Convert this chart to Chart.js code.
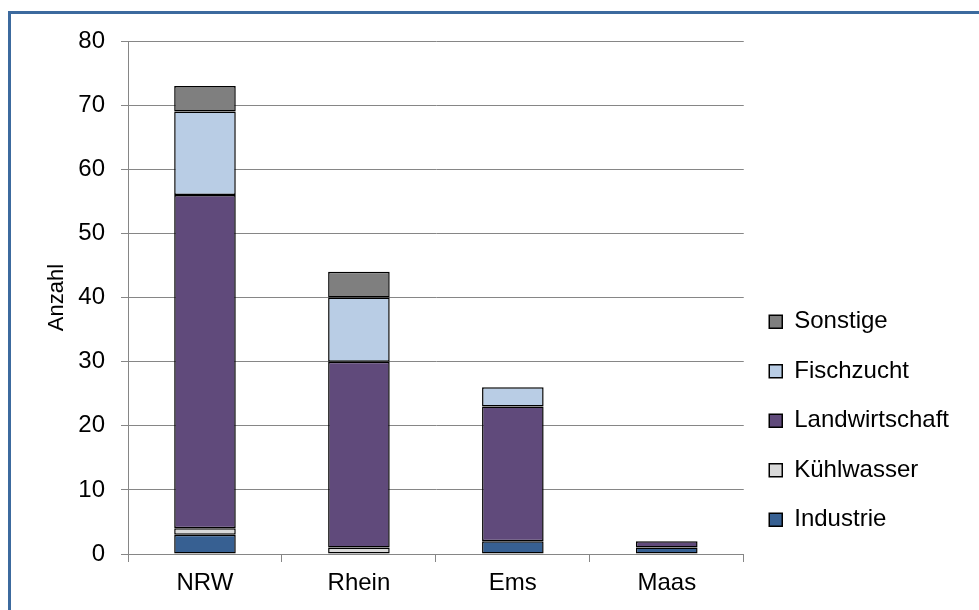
<!DOCTYPE html>
<html>
<head>
<meta charset="utf-8">
<script src="https://cdn.jsdelivr.net/npm/chart.js@4/dist/chart.umd.min.js"></script>
<style>
html, body { margin: 0; padding: 0; background: #fff; overflow: hidden; }
#rahmen { position: absolute; left: 8px; top: 11px; width: 1000px; height: 700px; border: 3px solid #3c6a9e; box-sizing: border-box; }
#chart { position: absolute; left: 0; top: 0; }
</style>
</head>
<body>
<div id="rahmen"></div>
<canvas id="chart" width="979" height="610"></canvas>
<script>
// Daten
const kategorien = ['NRW', 'Rhein', 'Ems', 'Maas'];
const industrie = [3, 0, 2, 1];
const kuehlwasser = [1, 1, 0, 0];
const landwirtschaft = [52, 29, 21, 1];
const fischzucht = [13, 10, 3, 0];
const sonstige = [4, 4, 0, 0];
const yMin = 0, yMax = 80, yStep = 10;

const grau = '#868686';
Chart.defaults.font.family = "'Liberation Sans', Arial, sans-serif";
Chart.defaults.font.size = 24;
Chart.defaults.color = '#000';

function serie(label, data, farbe) {
    return {
        label: label,
        data: data,
        backgroundColor: farbe,
        borderColor: '#000',
        borderWidth: 1.5,
        borderSkipped: false,
        barPercentage: 0.4,
        categoryPercentage: 1
    };
}

let ctx = document.getElementById('chart').getContext('2d');
let chart = new Chart(ctx, {
    type: 'bar',
    data: {
        labels: kategorien,
        datasets: [
            serie('Industrie', industrie, '#376092'),
            serie('Kühlwasser', kuehlwasser, '#d9d9d9'),
            serie('Landwirtschaft', landwirtschaft, '#604a7b'),
            serie('Fischzucht', fischzucht, '#b9cde5'),
            serie('Sonstige', sonstige, '#7f7f7f')
        ]
    },
    options: {
        responsive: false,
        animation: false,
        layout: { padding: { left: 40, top: 41, right: 20, bottom: 0 } },
        plugins: {
            tooltip: { enabled: false },
            legend: {
                position: 'right',
                align: 'start',
                reverse: true,
                title: { display: true, text: ' ', font: { size: 1 }, padding: { top: 242, bottom: 0 } },
                labels: { boxWidth: 13, boxHeight: 13, padding: 25.5, font: { size: 24 } }
            }
        },
        scales: {
            x: {
                stacked: true,
                grid: { offset: true, drawOnChartArea: false, color: grau, tickLength: 8 },
                border: { color: grau },
                ticks: { padding: 7 },
                afterFit: function (scale) { scale.height = 56; }
            },
            y: {
                stacked: true,
                min: yMin,
                max: yMax,
                ticks: { stepSize: yStep, padding: 16 },
                grid: { color: grau, tickLength: 7 },
                border: { color: grau },
                title: { display: true, text: 'Anzahl', font: { size: 22 } },
                afterFit: function (scale) { scale.width = 88; }
            }
        }
    }
});
</script>
</body>
</html>
